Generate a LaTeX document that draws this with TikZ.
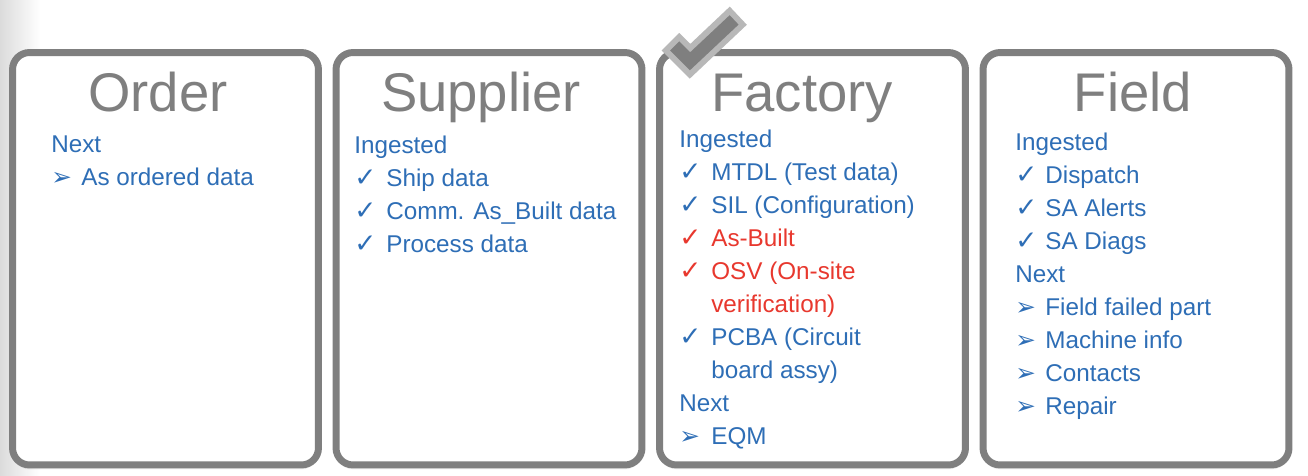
\documentclass[tikz,border=0pt]{standalone}
\usepackage{fontspec}
\setmainfont{Liberation Sans}
\newfontfamily\symfont{DejaVu Sans}
\usetikzlibrary{shadows}
\definecolor{boxgray}{RGB}{127,127,127}
\definecolor{tickgray}{RGB}{184,184,184}
\definecolor{itemblue}{RGB}{46,110,182}
\definecolor{itemred}{RGB}{232,56,46}
\newcommand{\tck}{{\symfont\fontsize{15}{15}\selectfont ✓}}
\newcommand{\arw}{{\symfont\fontsize{14}{14}\selectfont ➢}}
\begin{document}
\begin{tikzpicture}[x=0.02cm,y=-0.02cm,
  stage/.style={draw=boxgray,line width=3.97pt,rounded corners=0.34cm,fill=white,
    minimum width=6.12cm,minimum height=8.25cm,inner sep=0pt,
    drop shadow={opacity=0.12,shadow xshift=0pt,shadow yshift=-2.5pt}},
  title/.style={text=boxgray,font=\fontsize{31}{37}\selectfont,inner sep=0pt,anchor=base},
  txt/.style={text=itemblue,font=\fontsize{13.8}{18}\selectfont,inner sep=0pt,anchor=base west},
  warn/.style={txt,text=itemred}]
\pgfmathsetmacro{\kpitch}{33}
\pgfmathsetmacro{\kcy}{258.75}
\useasboundingbox (0,0) rectangle (1308,476);
\shade[left color=black!14,right color=white] (0,0) rectangle (40,476);
% the four stages
\foreach \nm/\cx in {order/165.5,supplier/489,factory/812.5,field/1136}
  \node[stage] (\nm) at (\cx,\kcy) {};
\node[title] (order-t) at (158,112) {Order};
\node[title] (supplier-t) at (481,112) {Supplier};
\node[title] (factory-t) at (802,112) {Factory};
\node[title] (field-t) at (1133,112) {Field};
% order
\node[txt] (ord-h1) at (51,152.5) {Next};
\node[txt] (ord-b1) at (51,152.5+\kpitch) {\arw};
\node[txt] (ord-i1) at (81,152.5+\kpitch) {As ordered data};
% supplier
\node[txt] (sup-h1) at (354,153.5) {Ingested};
\foreach \r/\t in {1/Ship data,2/Comm. As\_Built data,3/Process data}{
  \node[txt] (sup-b\r) at (354,153.5+\r*\kpitch) {\tck};
  \node[txt] (sup-i\r) at (386,153.5+\r*\kpitch) {\t};
}
% factory
\node[txt] (fac-h1) at (679,147.5) {Ingested};
\foreach \r/\s in {1/txt,2/txt,3/warn,4/warn,6/txt}
  \node[\s] (fac-b\r) at (679,147.5+\r*\kpitch) {\tck};
\foreach \r/\s/\t in {1/txt/MTDL (Test data),2/txt/SIL (Configuration),3/warn/As-Built,
    4/warn/OSV (On-site,5/warn/verification),6/txt/PCBA (Circuit,7/txt/board assy)}
  \node[\s] (fac-i\r) at (711,147.5+\r*\kpitch) {\t};
\node[txt] (fac-h2) at (679,147.5+8*\kpitch) {Next};
\node[txt] (fac-b9) at (679,147.5+9*\kpitch) {\arw};
\node[txt] (fac-i9) at (711,147.5+9*\kpitch) {EQM};
% field
\node[txt] (fld-h1) at (1015,150.5) {Ingested};
\foreach \r/\t in {1/Dispatch,2/SA Alerts,3/SA Diags}{
  \node[txt] (fld-b\r) at (1015,150.5+\r*\kpitch) {\tck};
  \node[txt] (fld-i\r) at (1045,150.5+\r*\kpitch) {\t};
}
\node[txt] (fld-h2) at (1015,150.5+4*\kpitch) {Next};
\foreach \r/\t in {5/Field failed part,6/Machine info,7/Contacts,8/Repair}{
  \node[txt] (fld-b\r) at (1015,150.5+\r*\kpitch) {\arw};
  \node[txt] (fld-i\r) at (1045,150.5+\r*\kpitch) {\t};
}
% big tick on the factory
\draw[tickgray,line width=25*0.567pt,line join=miter,line cap=butt]
  (670.5,41.7)--(690,61.3)--(738.3,15.7);
\draw[boxgray,line width=13*0.567pt,line join=miter,line cap=butt]
  (674.7,45.9)--(690,61.3)--(734.1,19.9);
\end{tikzpicture}
\end{document}
